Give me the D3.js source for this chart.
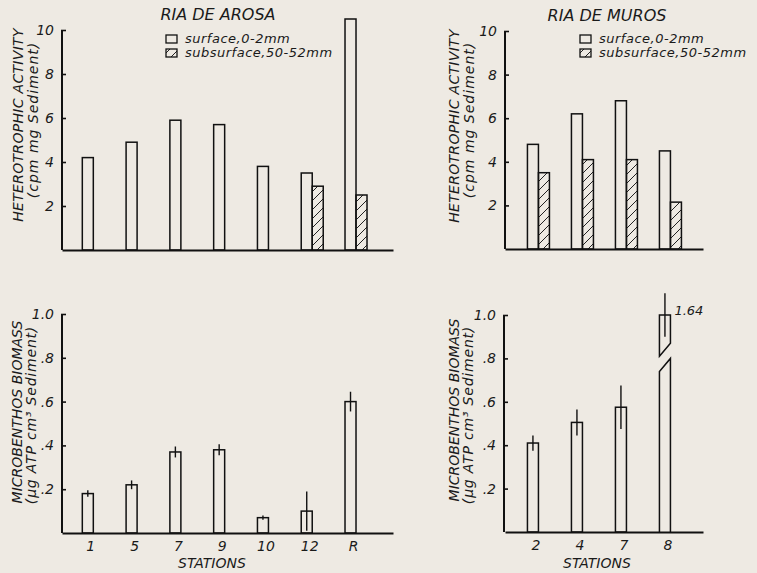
<!DOCTYPE html>
<html>
<head>
<meta charset="utf-8">
<script src="https://cdn.jsdelivr.net/npm/d3@7"></script>
<style>
  body { margin: 0; background: #eeeae3; }
  svg text { font-family: "DejaVu Sans", sans-serif; font-style: oblique; fill: #1a1a1a; }
</style>
</head>
<body>
<div id="chart"></div>
<script>
// Données
const arosaStations = ["1", "5", "7", "9", "10", "12", "R"];
const arosaSurface = [4.2, 4.9, 5.9, 5.7, 3.8, 3.5, 10.5];
const arosaSubsurface = [null, null, null, null, null, 2.9, 2.5];
const arosaBiomass = [0.18, 0.22, 0.37, 0.38, 0.07, 0.10, 0.60];
const arosaBiomassErr = [0.015, 0.02, 0.025, 0.025, 0.01, 0.09, 0.045];

const murosStations = ["2", "4", "7", "8"];
const murosSurface = [4.8, 6.2, 6.8, 4.5];
const murosSubsurface = [3.5, 4.1, 4.1, 2.15];
const murosBiomass = [0.41, 0.505, 0.575, 1.64];
const murosBiomassErr = [0.035, 0.06, 0.1, 0.1];

const activityTicks = [2, 4, 6, 8, 10];
const biomassTicks = [0.2, 0.4, 0.6, 0.8, 1.0];
const biomassTickLabels = [".2", ".4", ".6", ".8", "1.0"];

const width = 757;
const height = 573;
const barW = 11;

const svg = d3.select("#chart").append("svg")
  .attr("width", width)
  .attr("height", height);

// motif hachuré
svg.append("defs").append("pattern")
  .attr("id", "hatch")
  .attr("patternUnits", "userSpaceOnUse")
  .attr("width", 9).attr("height", 9)
  .append("path")
  .attr("d", "M0,9 L9,0 M-3,3 L3,-3 M6,12 L12,6")
  .attr("stroke", "#222")
  .attr("stroke-width", 1);

// échelles x (une par ria)
const xArosa = d3.scaleBand().domain(arosaStations).range([62, 393])
  .paddingInner(0).paddingOuter(0.28).align(0.16);
const xMuros = d3.scaleBand().domain(murosStations).range([505, 703])
  .paddingInner(0).paddingOuter(0.25).align(0.27);

const yActL = d3.scaleLinear().domain([0, 10]).range([250, 30]);
const yActR = d3.scaleLinear().domain([0, 10]).range([249, 31]);
const yBioL = d3.scaleLinear().domain([0, 1]).range([533, 314]);
const yBioR = d3.scaleLinear().domain([0, 1]).range([532, 315]);

function yAxis(g, scale, x0, ticks, labels) {
  const ax = g.append("g")
    .attr("transform", `translate(${x0},0)`)
    .call(d3.axisLeft(scale).tickValues(ticks)
      .tickFormat((d, i) => labels ? labels[i] : d)
      .tickSizeOuter(0).tickSize(3).tickPadding(5));
  ax.select(".domain").attr("stroke", "#111").attr("stroke-width", 2)
    .attr("d", `M0,${scale.range()[0]}V${scale.range()[1]}`);
  ax.selectAll(".tick line").attr("x1", -1).attr("x2", 4)
    .attr("stroke", "#111").attr("stroke-width", 1.6);
  ax.selectAll(".tick text")
    .style("font-size", "14px").style("font-family", "DejaVu Sans")
    .style("font-style", "oblique").attr("fill", "#1a1a1a");
}

function xAxis(g, scale, y0, showLabels) {
  const ax = g.append("g")
    .attr("transform", `translate(0,${y0})`)
    .call(d3.axisBottom(scale).tickSize(0).tickPadding(8));
  ax.select(".domain").attr("stroke", "#111").attr("stroke-width", 2);
  if (!showLabels) ax.selectAll(".tick text").remove();
  else ax.selectAll(".tick text")
    .style("font-size", "14px").style("font-family", "DejaVu Sans")
    .style("font-style", "oblique").attr("fill", "#1a1a1a").attr("dx", 3);
}

function yTitle(x, y, txt, size, spacing) {
  svg.append("text")
    .attr("transform", `translate(${x},${y}) rotate(-90)`)
    .attr("text-anchor", "middle")
    .attr("dominant-baseline", "central")
    .style("font-size", size + "px")
    .style("letter-spacing", (spacing || 0) + "px")
    .text(txt);
}

function activityPanel(x, y, stations, surface, subsurface) {
  const g = svg.append("g");
  const cx = (s) => x(s) + x.bandwidth() / 2;
  g.selectAll("rect.surf").data(stations).join("rect")
    .attr("class", "surf")
    .attr("x", (s) => cx(s) - barW / 2)
    .attr("y", (s, i) => y(surface[i]))
    .attr("width", barW)
    .attr("height", (s, i) => y(0) - y(surface[i]))
    .attr("fill", "none").attr("stroke", "#111").attr("stroke-width", 1.5);
  g.selectAll("rect.sub").data(stations.filter((s, i) => subsurface[i] != null)).join("rect")
    .attr("class", "sub")
    .attr("x", (s) => cx(s) + barW / 2)
    .attr("y", (s) => y(subsurface[stations.indexOf(s)]))
    .attr("width", barW)
    .attr("height", (s) => y(0) - y(subsurface[stations.indexOf(s)]))
    .attr("fill", "url(#hatch)").attr("stroke", "#111").attr("stroke-width", 1.5);
  return g;
}

function biomassPanel(x, y, stations, values, errs) {
  const g = svg.append("g");
  const cx = (s) => x(s) + x.bandwidth() / 2;
  const top = y.domain()[1];
  stations.forEach((s, i) => {
    const v = values[i];
    const x0 = cx(s) - barW / 2;
    const shown = Math.min(v, top);
    if (v <= top) {
      g.append("rect")
        .attr("x", x0).attr("y", y(v))
        .attr("width", barW).attr("height", y(0) - y(v))
        .attr("fill", "none").attr("stroke", "#111").attr("stroke-width", 1.5);
    } else {
      // barre coupée : valeur hors échelle
      const x1 = x0 + barW;
      g.append("path")
        .attr("d", `M${x0},${y(0)}V${y(0.74)}L${x1},${y(0.80)}V${y(0)}`)
        .attr("fill", "none").attr("stroke", "#111").attr("stroke-width", 1.5);
      g.append("path")
        .attr("d", `M${x0},${y(0.81)}L${x1},${y(0.87)}V${y(top)}H${x0}Z`)
        .attr("fill", "none").attr("stroke", "#111").attr("stroke-width", 1.5);
      g.append("text")
        .attr("x", x1 + 4).attr("y", y(top))
        .style("font-size", "13px")
        .text(d3.format(".2f")(v));
    }
    g.append("line")
      .attr("x1", cx(s)).attr("x2", cx(s))
      .attr("y1", y(shown + errs[i])).attr("y2", y(shown - errs[i]))
      .attr("stroke", "#111").attr("stroke-width", 1.4);
  });
  return g;
}

// barres
activityPanel(xArosa, yActL, arosaStations, arosaSurface, arosaSubsurface);
activityPanel(xMuros, yActR, murosStations, murosSurface, murosSubsurface);
biomassPanel(xArosa, yBioL, arosaStations, arosaBiomass, arosaBiomassErr);
biomassPanel(xMuros, yBioR, murosStations, murosBiomass, murosBiomassErr);

// axes
xAxis(svg, xArosa, 250, false);
xAxis(svg, xMuros, 249, false);
xAxis(svg, xArosa, 533, true);
xAxis(svg, xMuros, 532, true);
yAxis(svg, yActL, 62, activityTicks);
yAxis(svg, yActR, 505, activityTicks);
yAxis(svg, yBioL, 62, biomassTicks, biomassTickLabels);
yAxis(svg, yBioR, 504, biomassTicks, biomassTickLabels);

// titres
svg.append("text").attr("x", 218).attr("y", 20).attr("text-anchor", "middle")
  .style("font-size", "16px").text("RIA DE AROSA");
svg.append("text").attr("x", 607).attr("y", 21).attr("text-anchor", "middle")
  .style("font-size", "16px").text("RIA DE MUROS");

yTitle(18, 125, "HETEROTROPHIC ACTIVITY", 14, 0.3);
yTitle(33, 120, "(cpm  mg Sediment)", 14, 1);
yTitle(454, 126, "HETEROTROPHIC ACTIVITY", 14, 0.3);
yTitle(469, 120, "(cpm  mg Sediment)", 14, 1);
yTitle(17, 412, "MICROBENTHOS  BIOMASS", 14, 0);
yTitle(31, 415, "(µg ATP  cm³ Sediment)", 14, 0.8);
yTitle(454, 410, "MICROBENTHOS  BIOMASS", 14, 0);
yTitle(468, 415, "(µg ATP  cm³ Sediment)", 14, 0.8);

svg.append("text").attr("x", 212).attr("y", 568).attr("text-anchor", "middle")
  .style("font-size", "14px").text("STATIONS");
svg.append("text").attr("x", 597).attr("y", 568).attr("text-anchor", "middle")
  .style("font-size", "14px").text("STATIONS");

// légendes
function legend(x, y) {
  const g = svg.append("g").attr("transform", `translate(${x},${y})`);
  g.append("rect").attr("x", 0).attr("y", 0).attr("width", 11).attr("height", 8)
    .attr("fill", "none").attr("stroke", "#111").attr("stroke-width", 1.3);
  g.append("text").attr("x", 19).attr("y", 8).style("font-size", "13px")
    .style("letter-spacing", "0.5px").text("surface,0-2mm");
  g.append("rect").attr("x", 0).attr("y", 14).attr("width", 11).attr("height", 8)
    .attr("fill", "url(#hatch)").attr("stroke", "#111").attr("stroke-width", 1.3);
  g.append("text").attr("x", 19).attr("y", 22).style("font-size", "13px")
    .style("letter-spacing", "0.5px").text("subsurface,50-52mm");
}
legend(166, 35);
legend(580, 35);
</script>
</body>
</html>
